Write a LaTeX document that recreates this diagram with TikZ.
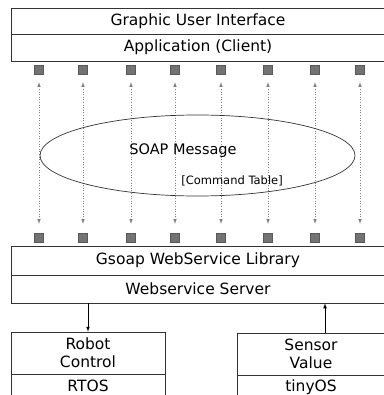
\documentclass[tikz,border=0pt]{standalone}
\usepackage{fontspec}
\setmainfont{DejaVu Sans}
\usetikzlibrary{shapes.geometric}
\begin{document}
\begin{tikzpicture}[x=1pt, y=-1pt,
	layer/.style={shape=rectangle,
				  draw=black!80,
				  line width=0.7pt,
				  inner sep=0pt,
				  align=center,
				  font=\fontsize{15.5}{18}\selectfont},
	port/.style={shape=rectangle,
				 draw=black!65,
				 fill=black!55,
				 minimum size=9pt,
				 inner sep=0pt},
	msgline/.style={dotted, draw=black!50, line width=0.6pt, >=latex,
					shorten >= 9pt, shorten <= 8pt}]
	\useasboundingbox (0,0) rectangle (383,395);

	% client side
	\draw (198,21) node[layer, minimum width=374pt, minimum height=26pt](gui){Graphic User Interface};
	\draw (198,47.5) node[layer, minimum width=374pt, minimum height=27pt](app){Application (Client)};

	% server side
	\draw (198,260.5) node[layer, minimum width=374pt, minimum height=29pt](gsoap){Gsoap WebService Library};
	\draw (198,289) node[layer, minimum width=374pt, minimum height=28pt](server){Webservice Server};

	% ports and messages
	\foreach \x [count=\i] in {39,83,131,175,221,268,315,360} {
		\draw (\x,69.5) node[port](t\i){};
		\draw (\x,237.5) node[port](b\i){};
		\draw [msgline, <->](t\i) -- (b\i);
	}

	\draw (197.5,155.5) node[shape=ellipse,
							 draw=black!80,
							 line width=0.7pt,
							 minimum width=315pt,
							 minimum height=81pt](soap){};
	\draw (183,151) node[font=\fontsize{14.5}{17}\selectfont](soapname){SOAP Message};
	\draw (232,181) node[font=\fontsize{11.5}{14}\selectfont](cmd){[Command Table]};

	% devices
	\draw (88,353) node[layer, minimum width=154pt, minimum height=42pt](robot){Robot\\Control};
	\draw (88,386) node[layer, minimum width=154pt, minimum height=24pt](rtos){RTOS};
	\draw (311,354) node[layer, minimum width=148pt, minimum height=42pt](sensor){Sensor\\Value};
	\draw (311,387) node[layer, minimum width=148pt, minimum height=24pt](tinyos){tinyOS};

	\draw [-latex, line width=0.7pt](robot.north |- server.south) -- (robot.north);
	\draw [-latex, line width=0.7pt]([xshift=14pt]sensor.north) -- ([xshift=14pt]sensor.north |- server.south);
\end{tikzpicture}
\end{document}
